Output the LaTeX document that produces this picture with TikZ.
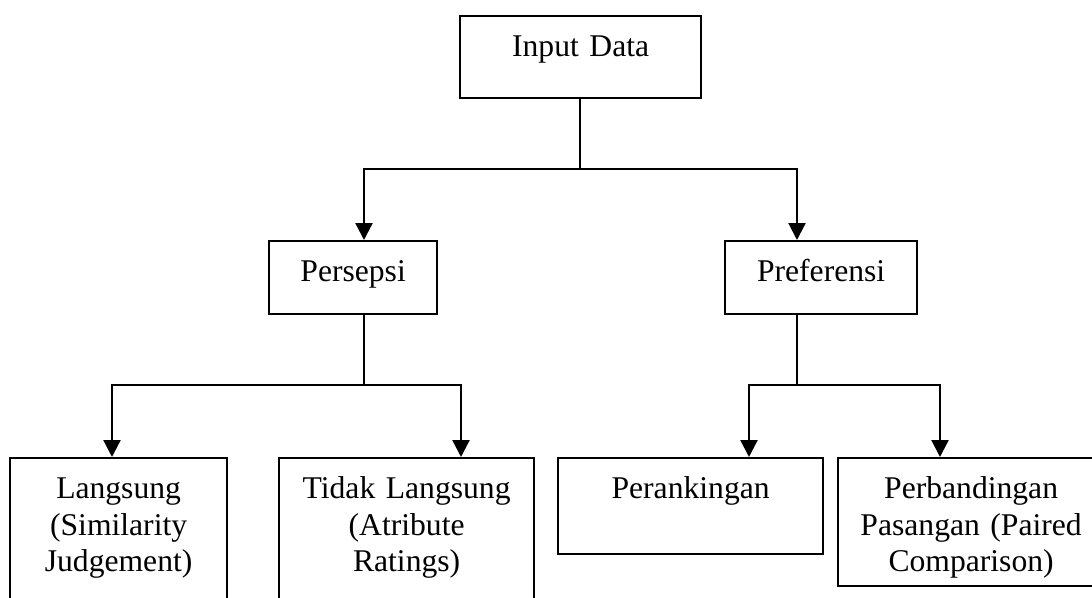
\documentclass[tikz,border=0pt]{standalone}
\usepackage{fontspec}
\setmainfont{Liberation Serif}
\usetikzlibrary{arrows.meta}
\tikzset{
	kotak/.style={draw, line width=1.3pt, anchor=north west, align=center, inner xsep=0pt, inner ysep=0pt, text height=0.8cm, font=\fontsize{18}{21}\selectfont},
	garis/.style={line width=1.3pt},
	panah/.style={line width=1.3pt, -{Triangle[length=0.34cm,width=0.34cm]}},
}
\begin{document}
\begin{tikzpicture}[x=0.02cm,y=-0.02cm]
	\useasboundingbox (0,0) rectangle (1092,598);
	\clip (0,0) rectangle (1092,598);
	
	\node[kotak, text width=4.82cm, text depth=0.84cm] (input) at (459,15) {Input Data};
	\node[kotak, text width=3.36cm, text depth=0.66cm] (persepsi) at (268,240) {Persepsi};
	\node[kotak, text width=3.84cm, text depth=0.66cm] (preferensi) at (724,240) {Preferensi};
	\node[kotak, text width=4.34cm, text depth=2.46cm] (langsung) at (9,457) {Langsung\\(Similarity\\Judgement)};
	\node[kotak, text width=5.10cm, text depth=2.46cm] (tidak) at (278,457) {Tidak Langsung\\(Atribute\\Ratings)};
	\node[kotak, text width=5.30cm, text depth=1.12cm] (ranking) at (557,457) {Perankingan};
	\node[kotak, text width=5.32cm, text depth=1.76cm] (pasangan) at (837,457) {Perbandingan\\Pasangan (Paired\\Comparison)};
	
	\coordinate (c1) at (580,169);
	\coordinate (a1) at (364,169);
	\coordinate (a2) at (797,169);
	\coordinate (c2) at (364,385);
	\coordinate (k1) at (112,385);
	\coordinate (k2) at (461,385);
	\coordinate (c3) at (797,385);
	\coordinate (k3) at (749,385);
	\coordinate (k4) at (940,385);
	
	\draw[garis] (input.south -| c1) -- (c1);
	\draw[panah] (c1) -| (persepsi.north -| a1);
	\draw[panah] (c1) -| (preferensi.north -| a2);
	
	\draw[garis] (persepsi.south -| c2) -- (c2);
	\draw[panah] (c2) -| (langsung.north -| k1);
	\draw[panah] (c2) -| (tidak.north -| k2);
	
	\draw[garis] (preferensi.south -| c3) -- (c3);
	\draw[panah] (c3) -| (ranking.north -| k3);
	\draw[panah] (c3) -| (pasangan.north -| k4);
\end{tikzpicture}
\end{document}
